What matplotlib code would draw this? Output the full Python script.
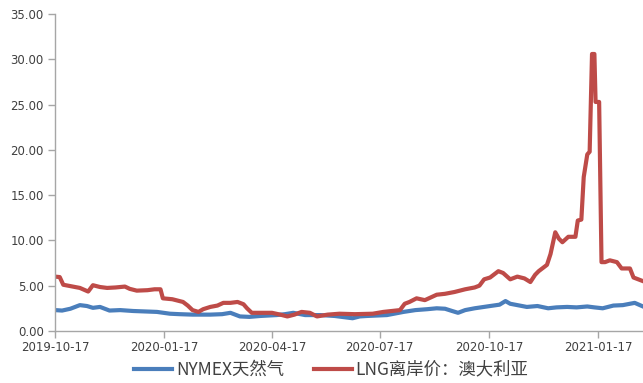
import matplotlib
matplotlib.use("Agg")
import matplotlib.pyplot as plt
import pandas as pd

plt.rcParams['font.family'] = ['Noto Sans CJK SC', 'DejaVu Sans']

nymex_dates = ["2019-10-17", "2019-10-23", "2019-10-30", "2019-11-07", "2019-11-13", "2019-11-18",
               "2019-11-24", "2019-12-02", "2019-12-11", "2019-12-22", "2020-01-01", "2020-01-11",
               "2020-01-22", "2020-01-30", "2020-02-10", "2020-02-25", "2020-03-06", "2020-03-13",
               "2020-03-21", "2020-03-29", "2020-04-07", "2020-04-21", "2020-04-28", "2020-05-05",
               "2020-05-15", "2020-05-28", "2020-06-09", "2020-06-24", "2020-06-30", "2020-07-06",
               "2020-07-23", "2020-08-06", "2020-08-16", "2020-08-26", "2020-09-03", "2020-09-10",
               "2020-09-16", "2020-09-21", "2020-09-27", "2020-10-05", "2020-10-18", "2020-10-26",
               "2020-10-31", "2020-11-04", "2020-11-10", "2020-11-18", "2020-11-27", "2020-12-06",
               "2020-12-13", "2020-12-22", "2020-12-30", "2021-01-08", "2021-01-14", "2021-01-21",
               "2021-01-30", "2021-02-07", "2021-02-17", "2021-02-24"]
nymex_values = [2.30, 2.25, 2.45, 2.85, 2.75, 2.55,
                2.65, 2.25, 2.30, 2.20, 2.15, 2.10,
                1.90, 1.85, 1.80, 1.80, 1.85, 2.00,
                1.60, 1.55, 1.65, 1.75, 1.85, 2.00,
                1.75, 1.75, 1.65, 1.40, 1.60, 1.65,
                1.75, 2.10, 2.30, 2.40, 2.50, 2.45,
                2.20, 2.00, 2.30, 2.50, 2.75, 2.90,
                3.30, 3.00, 2.85, 2.65, 2.75, 2.50,
                2.60, 2.65, 2.60, 2.70, 2.60, 2.50,
                2.80, 2.85, 3.10, 2.70]

lng_dates = ["2019-10-17", "2019-10-21", "2019-10-24", "2019-10-30", "2019-11-07", "2019-11-14",
             "2019-11-18", "2019-11-24", "2019-11-30", "2019-12-07", "2019-12-15", "2019-12-19",
             "2019-12-25", "2020-01-03", "2020-01-09", "2020-01-14", "2020-01-16", "2020-01-24",
             "2020-02-02", "2020-02-06", "2020-02-10", "2020-02-15", "2020-02-19", "2020-02-25",
             "2020-03-02", "2020-03-07", "2020-03-13", "2020-03-19", "2020-03-24", "2020-03-27",
             "2020-03-31", "2020-04-07", "2020-04-17", "2020-04-24", "2020-04-30", "2020-05-06",
             "2020-05-12", "2020-05-19", "2020-05-25", "2020-06-03", "2020-06-13", "2020-06-26",
             "2020-07-11", "2020-07-20", "2020-07-27", "2020-08-03", "2020-08-07", "2020-08-11",
             "2020-08-17", "2020-08-24", "2020-09-03", "2020-09-10", "2020-09-18", "2020-09-27",
             "2020-10-05", "2020-10-09", "2020-10-13", "2020-10-18", "2020-10-25", "2020-10-29",
             "2020-11-04", "2020-11-10", "2020-11-16", "2020-11-21", "2020-11-25", "2020-11-28",
             "2020-12-05", "2020-12-08", "2020-12-12", "2020-12-15", "2020-12-18", "2020-12-23",
             "2020-12-29", "2020-12-31", "2021-01-03", "2021-01-05", "2021-01-08", "2021-01-10",
             "2021-01-12", "2021-01-14", "2021-01-15", "2021-01-18", "2021-01-20", "2021-01-23",
             "2021-01-27", "2021-02-02", "2021-02-06", "2021-02-13", "2021-02-16", "2021-02-24"]
lng_values = [6.00, 5.95, 5.10, 4.95, 4.75, 4.35,
              5.05, 4.85, 4.75, 4.80, 4.90, 4.65,
              4.45, 4.50, 4.60, 4.60, 3.60, 3.50,
              3.20, 2.80, 2.30, 2.10, 2.40, 2.65,
              2.80, 3.10, 3.10, 3.20, 2.95, 2.50,
              2.00, 2.00, 2.00, 1.80, 1.60, 1.80,
              2.10, 2.00, 1.60, 1.80, 1.90, 1.85,
              1.90, 2.10, 2.20, 2.30, 3.00, 3.20,
              3.60, 3.40, 4.00, 4.10, 4.30, 4.60,
              4.80, 5.00, 5.70, 5.90, 6.60, 6.40,
              5.70, 6.00, 5.80, 5.40, 6.20, 6.60,
              7.30, 8.50, 10.90, 10.20, 9.80, 10.40,
              10.40, 12.20, 12.30, 17.00, 19.50, 19.80,
              30.60, 30.60, 25.30, 25.30, 7.60, 7.60,
              7.80, 7.60, 6.90, 6.90, 5.90, 5.50]

y_ticks = [0, 5, 10, 15, 20, 25, 30, 35]
x_tick_labels = ["2019-10-17", "2020-01-17", "2020-04-17", "2020-07-17", "2020-10-17", "2021-01-17"]
series_names = ["NYMEX天然气", "LNG离岸价：澳大利亚"]

fig = plt.figure(figsize=(6.43, 3.83), dpi=100)
ax = fig.add_axes([0.0855, 0.136, 0.9145, 0.827])

ax.plot(pd.to_datetime(nymex_dates), nymex_values, color="#4A7EBB", lw=3, label=series_names[0],
        solid_joinstyle="round")
ax.plot(pd.to_datetime(lng_dates), lng_values, color="#BE4B48", lw=3, label=series_names[1],
        solid_joinstyle="round")

ax.set_ylim(0, 35)
ax.set_yticks(y_ticks)
ax.set_yticklabels([f"{v:.2f}" for v in y_ticks])
ax.set_xlim(pd.Timestamp("2019-10-17"), pd.Timestamp("2021-02-24"))
ax.set_xticks(pd.to_datetime(x_tick_labels))
ax.set_xticklabels(x_tick_labels)

for s in ["top", "right"]:
    ax.spines[s].set_visible(False)
for s in ["left", "bottom"]:
    ax.spines[s].set_color("#A6A6A6")
    ax.spines[s].set_linewidth(1.0)
ax.tick_params(axis="both", colors="#A6A6A6", length=5, width=1, labelcolor="#404040")
ax.tick_params(axis="y", pad=3)
ax.tick_params(axis="x", pad=2)
for lab in ax.get_xticklabels() + ax.get_yticklabels():
    lab.set_fontfamily("DejaVu Sans")
    lab.set_fontsize(8.5)

leg = fig.legend(loc="center", bbox_to_anchor=(0.515, 0.035), ncol=2, frameon=False,
                 fontsize=12.5, handlelength=2.2, columnspacing=1.7, handletextpad=0.2)
for t in leg.get_texts():
    t.set_color("#404040")

fig.savefig("out.png", dpi=100)
